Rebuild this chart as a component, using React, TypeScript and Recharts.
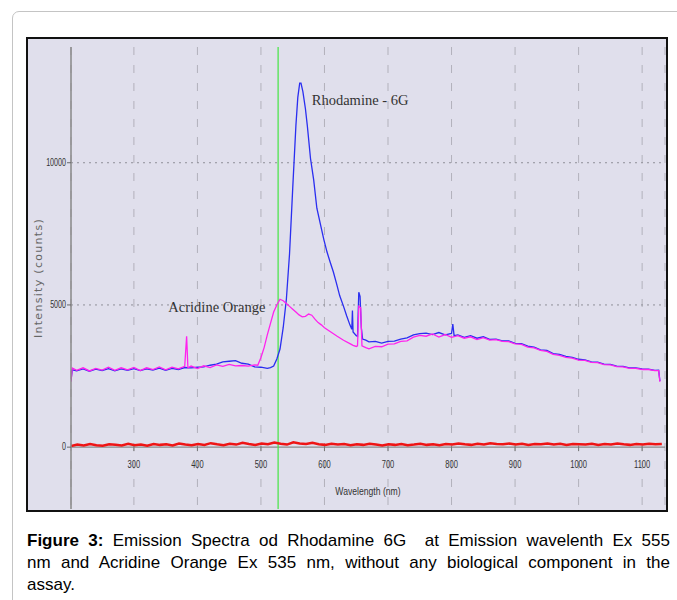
import React from 'react'
import {
    LineChart,
    Line,
    XAxis,
    YAxis,
    CartesianGrid,
    ReferenceLine,
    ReferenceDot,
} from 'recharts'

// wavelength (nm) / intensity (counts)
const rhodamineWl = [
    201, 203, 210, 220, 230, 240, 250, 260, 270, 280, 290, 300, 310, 320, 330, 340, 350, 360, 370, 380,
    390, 400, 410, 420, 430, 440, 450, 460, 470, 480, 490, 500, 510, 515, 520, 525, 530, 535, 540, 545,
    550, 555, 558, 561, 563, 566, 570, 573, 578, 583, 588, 594, 599, 604, 609, 614, 619, 624, 630, 635,
    640, 643, 644, 645, 650, 652, 654, 656, 658, 660, 665, 670, 680, 690, 700, 710, 720, 730, 740, 750,
    760, 770, 780, 790, 800, 802, 804, 810, 820, 830, 840, 850, 860, 870, 880, 890, 900, 910, 920, 930,
    940, 950, 960, 970, 980, 990, 1000, 1010, 1020, 1030, 1040, 1050, 1060, 1070, 1080, 1090, 1100, 1110, 1120, 1126,
    1128,
]
const rhodamineCounts = [
    2350, 2720, 2680, 2750, 2670, 2740, 2690, 2760, 2680, 2750, 2700, 2760, 2690, 2750, 2710, 2780, 2700, 2770, 2730, 2800,
    2790, 2810, 2820, 2880, 2920, 3000, 3020, 3040, 2950, 2920, 2820, 2810, 2770, 2800, 2850, 3100, 3450, 4200, 5200, 6800,
    9100, 11300, 12300, 12800, 12800, 12500, 11900, 11300, 10150, 9400, 8400, 7800, 7300, 6860, 6500, 6160, 5750, 5320, 4950, 4610,
    4300, 4150, 4800, 4050, 3920, 3900, 5450, 5300, 4200, 3800, 3760, 3700, 3720, 3660, 3720, 3730, 3800, 3840, 3950, 3990,
    4010, 3960, 4030, 3950, 4000, 4330, 3920, 3950, 3860, 3920, 3830, 3880, 3790, 3800, 3740, 3740, 3650, 3640, 3550, 3520,
    3420, 3400, 3290, 3260, 3190, 3160, 3090, 3070, 3000, 2990, 2920, 2910, 2850, 2840, 2790, 2790, 2750, 2740, 2700, 2710,
    2320,
]

const acridineWl = [
    201, 203, 210, 220, 230, 240, 250, 260, 270, 280, 290, 300, 310, 320, 330, 340, 350, 360, 370, 380,
    383, 385, 390, 400, 410, 420, 430, 440, 450, 460, 470, 480, 490, 495, 500, 505, 510, 515, 520, 525,
    530, 535, 540, 545, 550, 555, 560, 565, 570, 575, 580, 585, 590, 595, 600, 610, 620, 630, 640, 645,
    650, 652, 654, 657, 659, 665, 670, 680, 690, 700, 710, 720, 730, 740, 750, 760, 770, 780, 790, 800,
    810, 820, 830, 840, 850, 860, 870, 880, 890, 900, 910, 920, 930, 940, 950, 960, 970, 980, 990, 1000,
    1010, 1020, 1030, 1040, 1050, 1060, 1070, 1080, 1090, 1100, 1110, 1120, 1126, 1128,
]
const acridineCounts = [
    2300, 2780, 2700, 2790, 2680, 2770, 2710, 2810, 2700, 2790, 2720, 2800, 2690, 2790, 2730, 2820, 2720, 2810, 2750, 2840,
    3900, 2790, 2850, 2760, 2860, 2800, 2890, 2840, 2910, 2860, 2870, 2850, 2890, 2880, 3150, 3500, 3950, 4350, 4750, 5000,
    5200, 5150, 5050, 4950, 4850, 4750, 4650, 4580, 4600, 4680, 4640, 4500, 4380, 4300, 4200, 4050, 3900, 3760, 3640, 3580,
    3540, 3560, 4950, 4900, 3560, 3500, 3460, 3540, 3530, 3620, 3630, 3720, 3740, 3870, 3930, 3900, 3980, 3870, 3960, 3860,
    3920, 3830, 3880, 3780, 3850, 3760, 3780, 3720, 3710, 3630, 3610, 3520, 3490, 3400, 3370, 3260, 3230, 3160, 3130, 3060,
    3050, 2980, 2970, 2900, 2890, 2830, 2820, 2770, 2770, 2730, 2730, 2690, 2690, 2300,
]

// blank (no dye), every 10 nm from 201
const blankCounts = [
    40, 90, 60, 110, 70, 50, 100, 80, 60, 120, 70, 90, 50, 110, 80, 100, 60, 130, 90, 70,
    110, 80, 140, 100, 70, 120, 90, 150, 110, 80, 130, 100, 160, 120, 90, 170, 130, 110, 150, 100,
    80, 120, 90, 110, 70, 100, 80, 120, 90, 60, 100, 80, 110, 70, 90, 120, 80, 100, 70, 110,
    90, 130, 100, 80, 120, 90, 140, 110, 100, 130, 90, 120, 80, 110, 100, 130, 90, 120, 80, 110,
    100, 90, 120, 80, 110, 90, 130, 100, 80, 110, 90, 120, 100, 110,
]
const blankWl = blankCounts.map((_, i) => 201 + i * 10)

const xTicks = [300, 400, 500, 600, 700, 800, 900, 1000, 1100]
const yTicks = [0, 5000, 10000]
const gridLevels = [5000, 10000]
const X_DOMAIN = [201, 1136]
const Y_MIN = -2175
const Y_MAX = 14070
const EXCITATION = 527

const rhodamine = rhodamineWl.map((wl, i) => ({ wl, v: rhodamineCounts[i] }))
const acridine = acridineWl.map((wl, i) => ({ wl, v: acridineCounts[i] }))
const blank = blankWl.map((wl, i) => ({ wl, v: blankCounts[i] }))

const CHART_W = 638
const CHART_H = 471
const X_AXIS_H = 1
const MARGIN = { top: 8, right: 1, bottom: 0, left: 0 }
const PLOT_H = CHART_H - MARGIN.top - MARGIN.bottom - X_AXIS_H
// distance from plot bottom up to the zero line
const ZERO_UP = (PLOT_H * (0 - Y_MIN)) / (Y_MAX - Y_MIN)

const narrow = "'Liberation Sans Narrow', 'Liberation Sans', Arial, sans-serif"

const WaveTick = (props: any) => {
    const { x, y, payload } = props
    const y0 = y - X_AXIS_H - ZERO_UP
    return (
        <g>
            <line x1={x} x2={x} y1={y0} y2={y0 + 5} stroke='#777' />
            <text
                transform={`translate(${x},${y0 + 19}) scale(0.72,1)`}
                textAnchor='middle'
                dominantBaseline='middle'
                fontFamily={narrow}
                fontSize={10.5}
                fill='#333'
            >
                {payload.value}
            </text>
        </g>
    )
}

const CountTick = (props: any) => {
    const { x, y, payload } = props
    return (
        <text
            transform={`translate(${x},${y}) scale(0.68,1)`}
            textAnchor='end'
            dominantBaseline='middle'
            fontFamily={narrow}
            fontSize={10.5}
            fill='#333'
        >
            {payload.value}
        </text>
    )
}

const WaveLabel = (props: any) => {
    const { viewBox } = props
    const cx = viewBox.x + viewBox.width / 2
    return (
        <text
            transform={`translate(${cx},${viewBox.y - 17}) scale(0.75,1)`}
            textAnchor='middle'
            dominantBaseline='middle'
            fontFamily={narrow}
            fontSize={11.5}
            fill='#333'
        >
            Wavelength (nm)
        </text>
    )
}

const App: React.FC = () => {
    return (
        <div style={{ position: 'absolute', left: 0, top: 0, width: 677, height: 600, overflow: 'hidden', background: '#fff' }}>
            <div
                style={{
                    position: 'absolute',
                    left: 12,
                    top: 11,
                    width: 700,
                    height: 620,
                    border: '1px solid #c4c4c4',
                    borderRadius: 7,
                }}
            />
            <div
                style={{
                    position: 'absolute',
                    left: 26,
                    top: 37,
                    width: CHART_W + 4,
                    height: CHART_H + 4,
                    border: '2px solid #111',
                    boxSizing: 'border-box',
                    background: '#e0dfec',
                }}
            >
                <LineChart width={CHART_W} height={CHART_H} margin={MARGIN}>
                    <CartesianGrid horizontal={false} stroke='#b2b1bb' strokeDasharray='8 10' />
                    {gridLevels.map((lv) => (
                        <ReferenceLine key={lv} y={lv} stroke='#8f8f98' strokeDasharray='2 4' />
                    ))}
                    <XAxis
                        type='number'
                        dataKey='wl'
                        domain={X_DOMAIN}
                        ticks={xTicks}
                        allowDataOverflow
                        height={X_AXIS_H}
                        axisLine={false}
                        tickLine={false}
                        tickSize={0}
                        tickMargin={0}
                        tick={<WaveTick />}
                        label={<WaveLabel />}
                    />
                    <YAxis
                        type='number'
                        domain={[Y_MIN, Y_MAX]}
                        ticks={yTicks}
                        allowDataOverflow
                        width={43}
                        axisLine={{ stroke: '#888', strokeWidth: 1.5 }}
                        tickLine={{ stroke: '#666' }}
                        tickSize={4}
                        tickMargin={1}
                        tick={<CountTick />}
                        label={{
                            value: 'Intensity (counts)',
                            angle: -90,
                            position: 'insideLeft',
                            offset: 10,
                            style: {
                                textAnchor: 'middle',
                                fontFamily: "'DejaVu Sans', sans-serif",
                                fontSize: 11,
                                letterSpacing: 1.3,
                                fill: '#666',
                            },
                        }}
                    />
                    <ReferenceLine y={0} stroke='#8a8a8a' strokeWidth={1.2} />
                    <ReferenceLine x={EXCITATION} stroke='#44e444' strokeWidth={1.2} />
                    <Line
                        data={blank}
                        dataKey='v'
                        stroke='#ee1515'
                        strokeWidth={2.5}
                        dot={false}
                        isAnimationActive={false}
                    />
                    <Line
                        data={rhodamine}
                        dataKey='v'
                        stroke='#2a2ef0'
                        strokeWidth={1.3}
                        dot={false}
                        isAnimationActive={false}
                    />
                    <Line
                        data={acridine}
                        dataKey='v'
                        stroke='#ff22ee'
                        strokeWidth={1.3}
                        dot={false}
                        isAnimationActive={false}
                    />
                    <ReferenceDot
                        x={580}
                        y={12210}
                        r={0}
                        fill='none'
                        stroke='none'
                        label={{
                            value: 'Rhodamine - 6G',
                            position: 'right',
                            offset: 0,
                            style: { fontFamily: "'Liberation Serif', serif", fontSize: 14.5, fill: '#333' },
                        }}
                    />
                    <ReferenceDot
                        x={507}
                        y={4950}
                        r={0}
                        fill='none'
                        stroke='none'
                        label={{
                            value: 'Acridine Orange',
                            position: 'left',
                            offset: 0,
                            style: { fontFamily: "'Liberation Serif', serif", fontSize: 14.5, fill: '#333' },
                        }}
                    />
                </LineChart>
            </div>
            <div
                style={{
                    position: 'absolute',
                    left: 27,
                    top: 530,
                    width: 643,
                    fontFamily: "'Liberation Sans', Arial, sans-serif",
                    fontSize: 17,
                    lineHeight: '22px',
                    color: '#000',
                }}
            >
                <div style={{ textAlign: 'justify', textAlignLast: 'justify' }}>
                    <b>Figure 3:</b> Emission Spectra od Rhodamine 6G&nbsp; at Emission wavelenth Ex 555
                </div>
                <div style={{ textAlign: 'justify', textAlignLast: 'justify' }}>
                    nm and Acridine Orange Ex 535 nm, without any biological component in the
                </div>
                <div>assay.</div>
            </div>
        </div>
    )
}

export default App
